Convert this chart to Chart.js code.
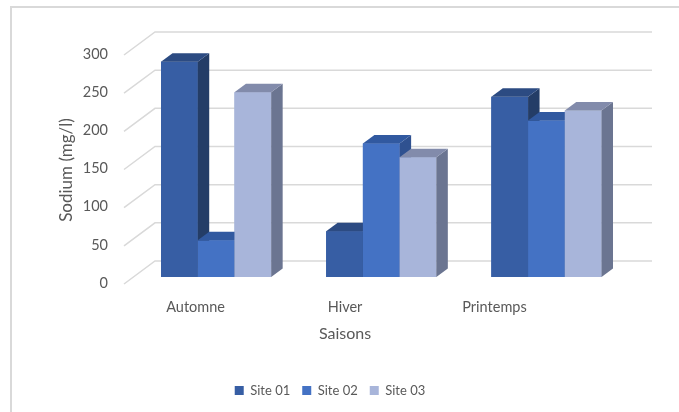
<!DOCTYPE html>
<html>
<head>
<meta charset="utf-8">
<script src="https://cdn.jsdelivr.net/npm/chart.js@4/dist/chart.umd.min.js"></script>
<style>
  body { margin: 0; background: #fff; }
</style>
</head>
<body>
<canvas id="mycanvas" width="679" height="412"></canvas>
<script>
var saisons = ["Automne", "Hiver", "Printemps"];
var site01 = [282, 60, 236];
var site02 = [48, 175, 205];
var site03 = [242, 157, 218];
var yTicks = [0, 50, 100, 150, 200, 250, 300];

// front / side / top colours of each column
var faces = [
	{ front: "#375ea4", side: "#243d67", top: "#2c4b82" },
	{ front: "#4472c4", side: "#2f5190", top: "#3159a0" },
	{ front: "#a8b5da", side: "#6b7591", top: "#828bab" }
];
var depth = { dx: 11.5, dy: -8.5 };
var textColor = "#595959";

// light frame on the left and top
var framePlugin = {
	id: "frame",
	beforeDraw: function(chart) {
		var ctx = chart.ctx;
		ctx.save();
		ctx.strokeStyle = "#d9d9d9";
		ctx.lineWidth = 2;
		ctx.beginPath();
		ctx.moveTo(11, chart.height);
		ctx.lineTo(11, 7);
		ctx.lineTo(chart.width, 7);
		ctx.stroke();
		ctx.restore();
	}
};

// back wall grid lines with the slanted floor edge
var wallPlugin = {
	id: "wall",
	beforeDatasetsDraw: function(chart) {
		var ctx = chart.ctx;
		var area = chart.chartArea;
		var y = chart.scales.y;
		ctx.save();
		ctx.strokeStyle = "#d9d9d9";
		ctx.lineWidth = 1.5;
		for (var i in yTicks) {
			var py = y.getPixelForValue(yTicks[i]);
			ctx.beginPath();
			ctx.moveTo(area.left - 9.5, py + 7);
			ctx.lineTo(area.left + 21.5, py - 16);
			ctx.lineTo(area.right + 23, py - 16);
			ctx.stroke();
		}
		ctx.restore();
	}
};

// columns redrawn left to right so each front hides the previous side face
var columnPlugin = {
	id: "columns3d",
	afterDatasetsDraw: function(chart) {
		var ctx = chart.ctx;
		ctx.save();
		for (var d = 0; d < chart.data.datasets.length; d++) {
			var f = faces[d];
			chart.getDatasetMeta(d).data.forEach(function(bar) {
				var p = bar.getProps(["x", "y", "base", "width"], true);
				var left = p.x - p.width / 2;
				var right = p.x + p.width / 2;
				ctx.fillStyle = f.front;
				ctx.fillRect(left, p.y, p.width, p.base - p.y);
				ctx.fillStyle = f.side;
				ctx.beginPath();
				ctx.moveTo(right, p.y);
				ctx.lineTo(right + depth.dx, p.y + depth.dy);
				ctx.lineTo(right + depth.dx, p.base + depth.dy);
				ctx.lineTo(right, p.base);
				ctx.closePath();
				ctx.fill();
				ctx.fillStyle = f.top;
				ctx.beginPath();
				ctx.moveTo(left, p.y);
				ctx.lineTo(left + depth.dx, p.y + depth.dy);
				ctx.lineTo(right + depth.dx, p.y + depth.dy);
				ctx.lineTo(right, p.y);
				ctx.closePath();
				ctx.fill();
			});
		}
		ctx.restore();
	}
};

// category labels along the front edge of the floor, and axis titles
var labelPlugin = {
	id: "labels",
	afterDraw: function(chart) {
		var ctx = chart.ctx;
		var area = chart.chartArea;
		var x = chart.scales.x;
		ctx.save();
		ctx.fillStyle = textColor;
		ctx.textAlign = "center";
		ctx.textBaseline = "middle";
		ctx.font = "14.5px Lato";
		var mid = 0;
		for (var i = 0; i < saisons.length; i++) {
			var px = x.getPixelForTick(i) * 0.905;
			ctx.fillText(saisons[i], px, area.bottom + 30);
			if (i == 1) mid = px;
		}
		ctx.font = "16px Lato";
		ctx.fillText("Saisons", mid, area.bottom + 57);
		ctx.font = "17px Lato";
		ctx.translate(67, (area.top + area.bottom) / 2 + 7.5);
		ctx.rotate(-Math.PI / 2);
		ctx.fillText("Sodium (mg/l)", 0, 0);
		ctx.restore();
	}
};

var ctx = document.getElementById("mycanvas");

var chart = new Chart(ctx, {
	type: "bar",
	data: {
		labels: saisons,
		datasets: [
			{ label: "Site 01", data: site01, backgroundColor: faces[0].front },
			{ label: "Site 02", data: site02, backgroundColor: faces[1].front },
			{ label: "Site 03", data: site03, backgroundColor: faces[2].front }
		]
	},
	options: {
		responsive: false,
		animation: false,
		categoryPercentage: 0.667,
		barPercentage: 1,
		layout: { padding: { left: 31, right: 50, top: 48, bottom: 5 } },
		scales: {
			x: {
				grid: { display: false, drawTicks: false },
				border: { display: false },
				ticks: { display: false },
				afterFit: function(scale) { scale.height = 95; }
			},
			y: {
				min: 0,
				max: 300,
				grid: { display: false, drawTicks: false },
				border: { display: false },
				afterFit: function(scale) { scale.width = 102.5; },
				afterBuildTicks: function(scale) {
					scale.ticks = yTicks.map(function(v) { return { value: v }; });
				},
				ticks: {
					padding: 25.5,
					labelOffset: 6,
					color: textColor,
					font: { family: "Lato", size: 14.5 }
				}
			}
		},
		plugins: {
			tooltip: { enabled: false },
			legend: {
				position: "bottom",
				labels: {
					boxWidth: 9,
					boxHeight: 9,
					padding: 12,
					color: textColor,
					font: { family: "Lato", size: 13 }
				}
			}
		}
	},
	plugins: [framePlugin, wallPlugin, columnPlugin, labelPlugin]
});
</script>
</body>
</html>
